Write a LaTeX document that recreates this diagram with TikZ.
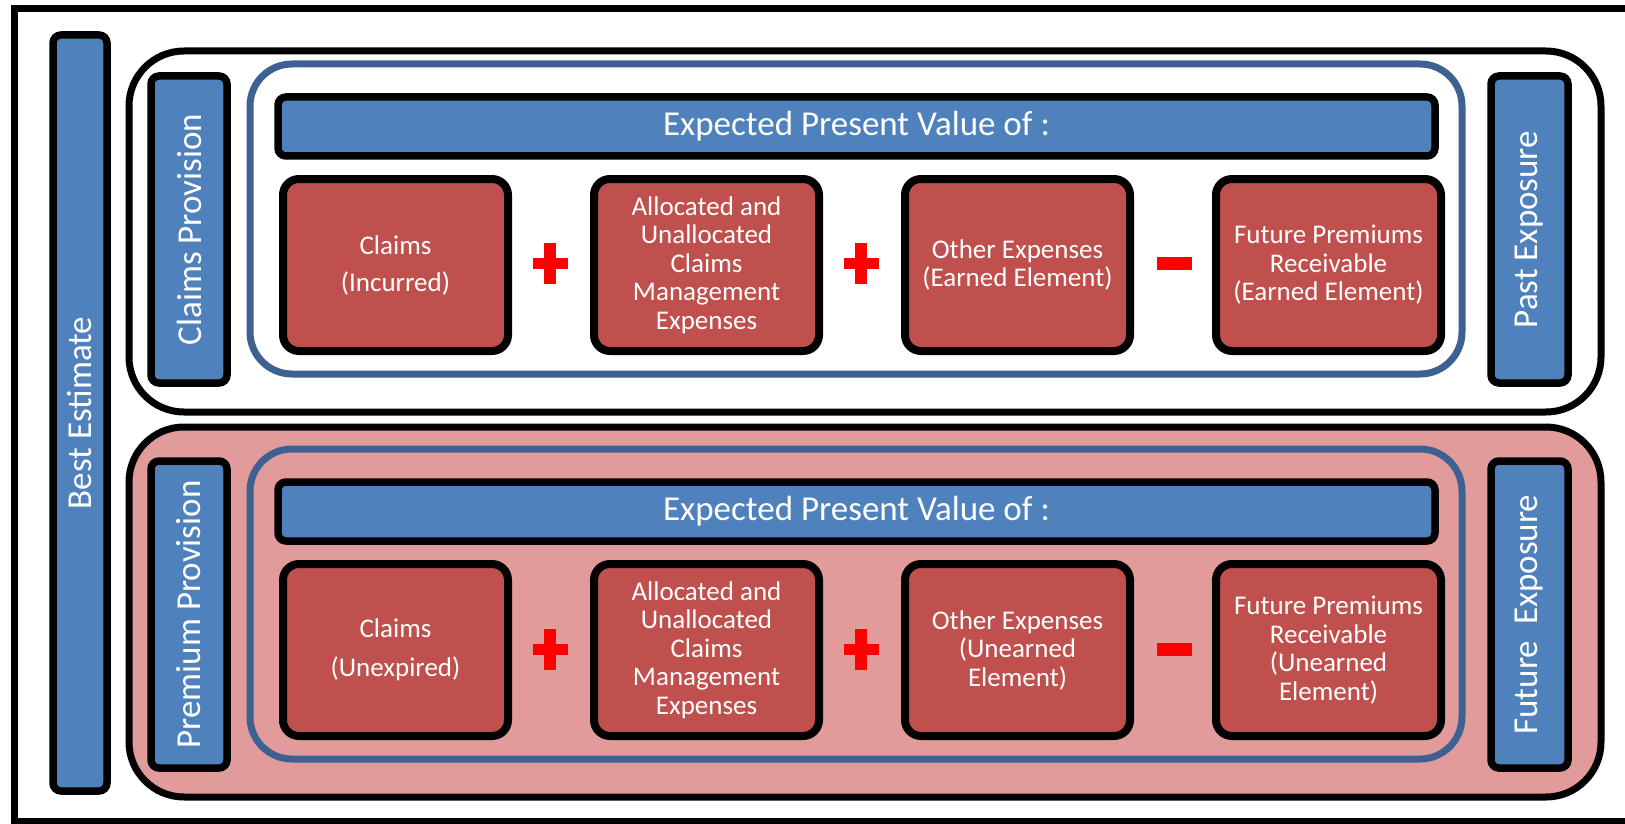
\documentclass[tikz,border=0pt]{standalone}
\usepackage{fontspec}
\setmainfont{Carlito}
\definecolor{cblue}{HTML}{4F81BD}
\definecolor{cred}{HTML}{C0504D}
\definecolor{cpink}{HTML}{E29B9B}
\definecolor{cframe}{HTML}{3D6292}
\definecolor{cop}{HTML}{FF0000}
\begin{document}
\begin{tikzpicture}[x=1pt,y=-1pt,
  bluebar/.style={draw=black, fill=cblue, line width=7.5pt, rounded corners=8pt,
    text=white, font=\fontsize{35}{40}\selectfont, inner sep=0pt},
  sidebar/.style={bluebar, rotate=90},
  group/.style={draw=black, line width=7pt, rounded corners=55pt, inner sep=0pt},
  frame/.style={draw=cframe, line width=7pt, rounded corners=42pt, inner sep=0pt},
  redbox/.style={draw=black, fill=cred, line width=8pt, rounded corners=16pt,
    text=white, align=center, font=\fontsize{27}{28.5}\selectfont,
    minimum width=225pt, minimum height=172pt, inner sep=0pt},
  plussign/.pic={\fill[cop] (-17.5,-5.5) rectangle (17.5,5.5);
                 \fill[cop] (-6,-20.5) rectangle (6,20.5);},
  minussign/.pic={\fill[cop] (-17.5,-6.5) rectangle (17.5,6.5);}
]
\useasboundingbox (0,0) rectangle (1625,824);
\fill[white] (0,0) rectangle (1625,824);

% outer frame (right side beyond the picture)
\draw[line width=7pt] (1640,8.5) -- (14,8.5) -- (14,821) -- (1640,821);

% Best Estimate
\node[sidebar, minimum width=756pt, minimum height=54pt] (best) at (80,413) {Best Estimate};

% groups
\node[group, fill=white, minimum width=1472pt, minimum height=361pt] (claimsgrp) at (865,231.5) {};
\node[group, fill=cpink, minimum width=1472pt, minimum height=370pt] (premgrp) at (865,612) {};

% inner frames
\node[frame, minimum width=1212pt, minimum height=310pt] (claimsframe) at (856,219) {};
\node[frame, minimum width=1212pt, minimum height=310pt] (premframe) at (856,604) {};

% side bars
\node[sidebar, minimum width=307pt, minimum height=76pt] (claimsprov) at (189,229.5) {Claims Provision};
\node[sidebar, minimum width=307pt, minimum height=76pt] (premprov) at (189,614.5) {Premium Provision};
\node[sidebar, minimum width=307pt, minimum height=77pt] (past) at (1529.5,229.5) {Past Exposure};
\node[sidebar, minimum width=307pt, minimum height=77pt] (future) at (1529.5,614.5) {Future\ \ Exposure};

% headers
\node[bluebar, minimum width=1157pt, minimum height=59pt] (hdrtop) at (856.5,126.5) {Expected Present Value of :};
\node[bluebar, minimum width=1157pt, minimum height=59pt] (hdrbot) at (856.5,511.5) {Expected Present Value of :};

% top row
\node[redbox] (c1) at (395.5,265) {Claims\\[8.5pt](Incurred)};
\node[redbox] (c2) at (706.5,265) {Allocated and\\Unallocated\\Claims\\Management\\Expenses};
\node[redbox] (c3) at (1017.5,265) {Other Expenses\\(Earned Element)};
\node[redbox] (c4) at (1328.5,265) {Future Premiums\\Receivable\\(Earned Element)};

% bottom row
\node[redbox] (p1) at (395.5,650) {Claims\\[10pt](Unexpired)};
\node[redbox] (p2) at (706.5,650) {Allocated and\\Unallocated\\Claims\\Management\\Expenses};
\node[redbox] (p3) at (1017.5,650) {Other Expenses\\(Unearned\\Element)};
\node[redbox] (p4) at (1328.5,650) {Future Premiums\\Receivable\\(Unearned\\Element)};

% operators
\pic at (550,263.5) {plussign};
\pic at (861,263.5) {plussign};
\pic at (1174.5,263.5) {minussign};
\pic at (550,649) {plussign};
\pic at (861,649) {plussign};
\pic at (1174.5,649) {minussign};
\end{tikzpicture}
\end{document}
